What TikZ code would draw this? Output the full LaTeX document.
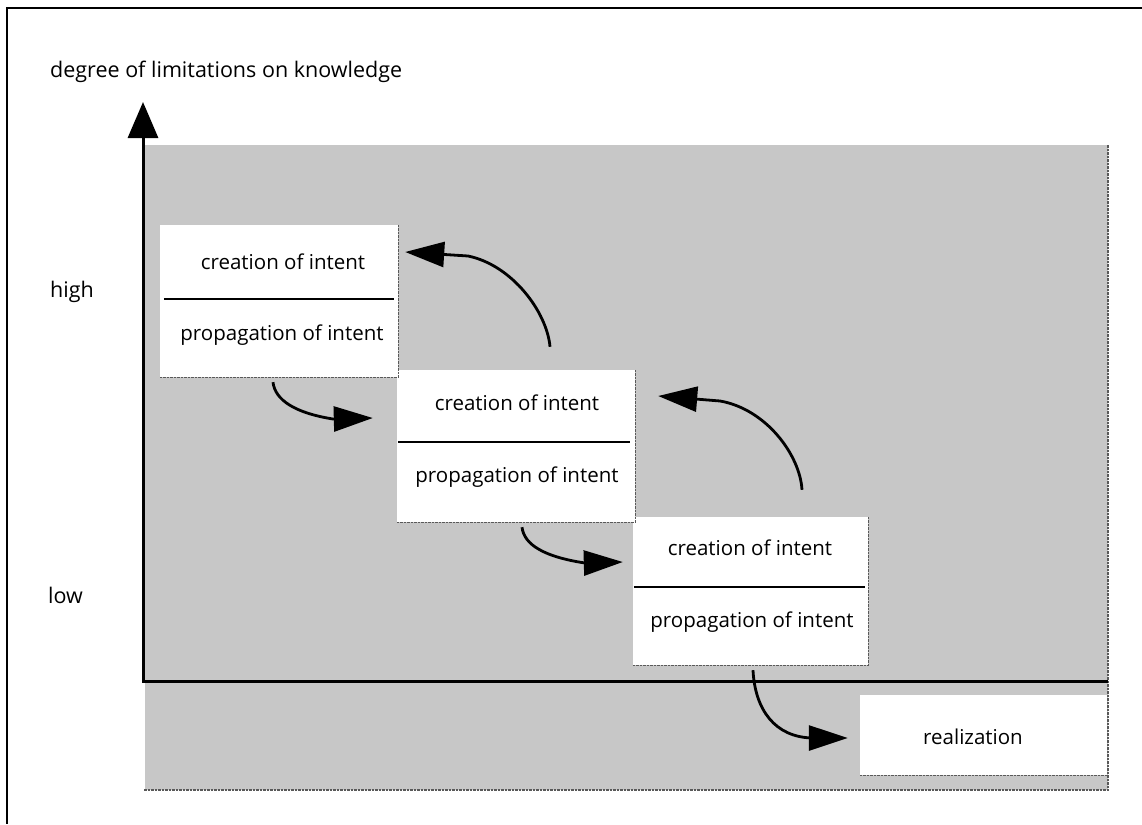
\documentclass[tikz,border=0pt]{standalone}
\usepackage{fontspec}
\setmainfont{Open Sans}
\usetikzlibrary{arrows.meta,calc}
\begin{document}
\begin{tikzpicture}[x=1pt,y=-1pt,
  txt/.style={font=\fontsize{20.5}{24}\selectfont, inner sep=0pt, text=black},
  axtxt/.style={font=\fontsize{21.5}{25}\selectfont, inner sep=0pt, text=black},
  whitebox/.style={fill=white, draw=none, inner sep=0pt},
  shadowedge/.style={draw=black!65, line width=1.1pt, dash pattern=on 2.5pt off 1pt},
  divider/.style={draw=black, line width=2.4pt},
  flow/.style={draw=black, line width=2.8pt, -{Triangle[length=39pt,width=25pt]}},
  axisline/.style={draw=black, line width=3pt},
  field/.style={fill=black!22}
]
\useasboundingbox (0,0) rectangle (1142,824);
\fill[white] (0,0) rectangle (1142,824);

% outer frame (top and left)
\draw[line width=2pt] (1142,8) -- (7,8) -- (7,824);

% shaded field
\fill[field] (145,145) rectangle (1108,790);
\draw[shadowedge] (1108,145) -- (1108,790) -- (143,790);

% axes
\coordinate (origin) at (143,681);
\coordinate (ytop) at (143,102);
\coordinate (xend) at (1108,681);
\draw[axisline] (origin) -- (xend);
\draw[axisline, -{Triangle[length=36pt,width=30pt]}] ([yshift=-1.5pt]origin) -- (ytop);

% axis labels
\node[axtxt, anchor=base west] (ylabel) at (50,78) {degree of limitations on knowledge};
\node[axtxt, anchor=base west] (high) at (50,297) {high};
\node[axtxt, anchor=base west] (low) at (48,603) {low};

% boxes
\node[whitebox, minimum width=238pt, minimum height=152pt] (b1) at (279,301) {};
\node[whitebox, minimum width=238pt, minimum height=152pt] (b2) at (516,446) {};
\node[whitebox, minimum width=235pt, minimum height=148pt] (b3) at (750.5,591) {};
\node[whitebox, minimum width=247pt, minimum height=80pt] (r) at (983.5,735) {};

\foreach \b in {b1,b2,b3,r}{
  \draw[shadowedge] (\b.north east) -- (\b.south east) -- (\b.south west);
}

\node[txt] (c1) at (283,262) {creation of intent};
\node[txt] (p1) at (282,335) {propagation of intent};
\node[txt] (c2) at (517,403) {creation of intent};
\node[txt] (p2) at (517,477) {propagation of intent};
\node[txt] (c3) at (750,548) {creation of intent};
\node[txt] (p3) at (752,622) {propagation of intent};
\node[txt] (rt) at (973,737) {realization};

\draw[divider] ($(b1.west)+(4,-2)$) -- ($(b1.east)+(-4,-2)$);
\draw[divider] ($(b2.west)+(1,-4)$) -- ($(b2.east)+(-5,-4)$);
\draw[divider] ($(b3.west)+(1,-4)$) -- ($(b3.east)+(-3,-4)$);

% connectors
\coordinate (sA) at ($(b2.north)+(34,-23)$);
\coordinate (sB) at ($(b3.north)+(51.5,-27)$);
\draw[flow] (sA) .. controls (547,312) and (512,265) .. (468,256) -- ($(b1.east)+(7,-49)$);
\draw[flow] (sB) .. controls (800,455) and (766,409) .. (720,401) -- ($(b2.east)+(23,-50)$);
\draw[flow] ($(b1.south)+(-6,5)$) .. controls (275,400) and (295,413) .. (333,419) -- ($(b2.west)+(-24,-28)$);
\draw[flow] ($(b2.south)+(6,5)$) .. controls (524,545) and (545,557) .. (585,563) -- ($(b3.west)+(-10,-29)$);
\draw[flow] ($(b3.south)+(2.5,5)$) .. controls (755,710) and (775,737) .. (812,738) -- ($(r.west)+(-12,3)$);
\end{tikzpicture}
\end{document}
